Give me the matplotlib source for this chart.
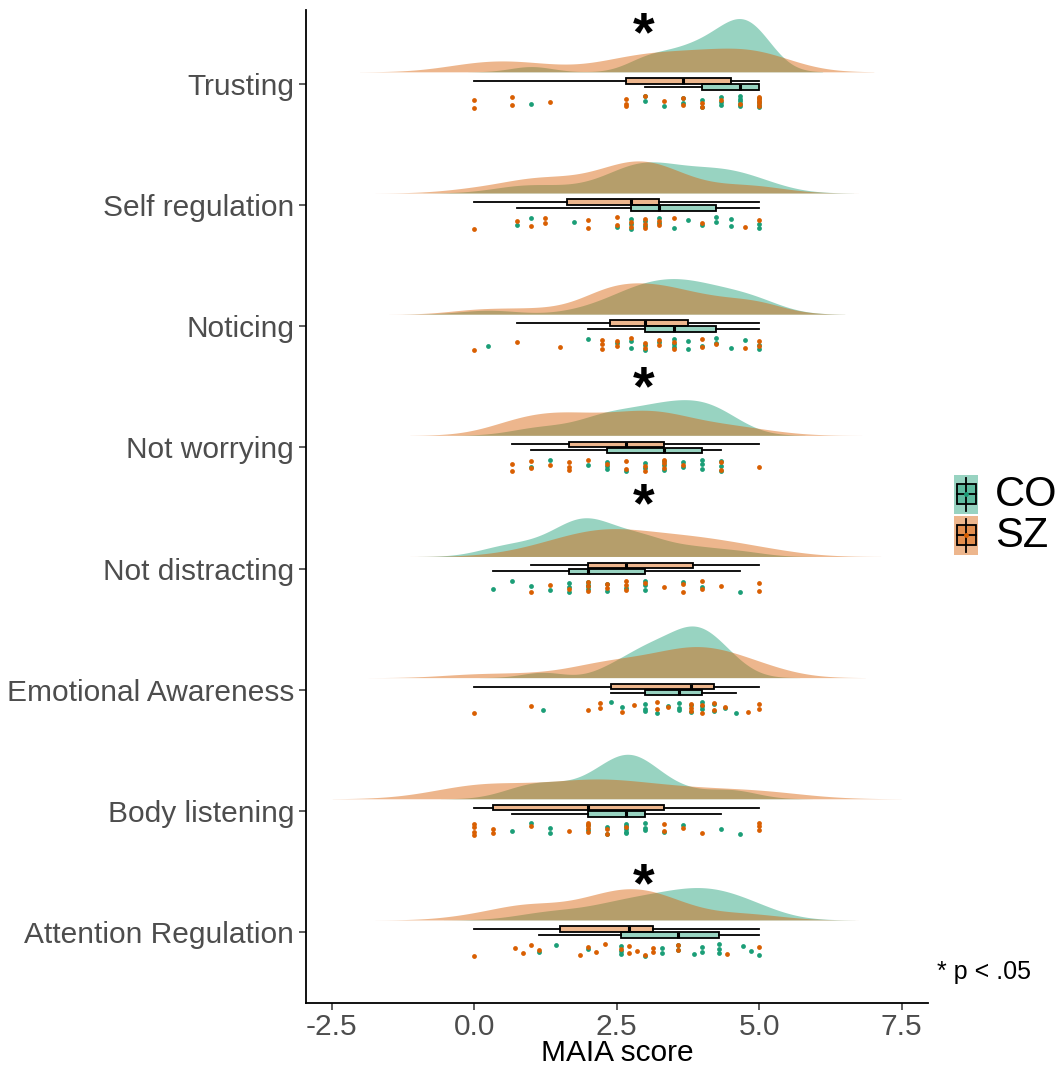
import numpy as np
import matplotlib
matplotlib.use("Agg")
import matplotlib.pyplot as plt
from matplotlib.patches import Rectangle

plt.rcParams['font.family'] = ['Liberation Sans', 'DejaVu Sans']

# subscales, bottom to top
subscales = ["Attention Regulation", "Body listening", "Emotional Awareness",
             "Not distracting", "Not worrying", "Noticing", "Self regulation", "Trusting"]

# individual scores (CO = controls, SZ = patients)
co_attention = [1.14, 1.43, 2.0, 2.57, 2.57, 2.57, 3.0, 3.29, 3.29, 3.57, 3.57, 3.86, 4.0, 4.0, 4.29, 4.29, 4.29, 4.71, 4.86, 5.0]
sz_attention = [0, 0.71, 0.86, 1.0, 1.14, 1.86, 2.0, 2.14, 2.29, 2.57, 2.71, 2.71, 2.86, 3.0, 3.14, 3.14, 3.57, 3.57, 4.43, 5.0]
co_body = [0.67, 1.0, 1.33, 1.33, 2.0, 2.0, 2.33, 2.33, 2.67, 2.67, 2.67, 2.67, 2.67, 3.0, 3.0, 3.0, 3.33, 3.67, 4.33, 4.67]
sz_body = [0, 0, 0, 0, 0.33, 0.33, 1.0, 1.67, 2.0, 2.0, 2.0, 2.0, 2.33, 2.33, 2.67, 3.33, 3.33, 3.67, 4.0, 5.0, 5.0, 5.0]
co_emotional = [1.2, 2.4, 2.6, 3.0, 3.0, 3.0, 3.2, 3.4, 3.6, 3.6, 3.6, 3.8, 3.8, 4.0, 4.0, 4.0, 4.2, 4.2, 4.4, 4.6]
sz_emotional = [0, 1.0, 2.0, 2.2, 2.2, 2.6, 2.8, 3.2, 3.2, 3.4, 3.8, 3.8, 3.8, 4.0, 4.0, 4.2, 4.2, 4.4, 4.8, 5.0, 5.0]
co_distracting = [0.33, 0.67, 1.0, 1.33, 1.67, 1.67, 1.67, 2.0, 2.0, 2.0, 2.0, 2.33, 2.33, 2.67, 3.0, 3.0, 3.0, 3.67, 4.0, 4.67]
sz_distracting = [1.0, 1.33, 1.67, 2.0, 2.0, 2.0, 2.33, 2.33, 2.67, 2.67, 2.67, 3.0, 3.33, 3.67, 3.67, 4.0, 4.0, 4.33, 5.0, 5.0]
co_worrying = [1.0, 1.33, 2.0, 2.33, 2.33, 2.33, 2.67, 3.0, 3.0, 3.33, 3.33, 3.33, 3.67, 3.67, 4.0, 4.0, 4.0, 4.33, 4.33, 4.33]
sz_worrying = [0.67, 0.67, 1.0, 1.0, 1.33, 1.67, 1.67, 1.67, 2.0, 2.33, 2.67, 2.67, 3.0, 3.0, 3.33, 3.33, 3.33, 3.67, 4.33, 4.33, 5.0]
co_noticing = [0.25, 2.0, 2.5, 2.75, 2.75, 3.0, 3.0, 3.25, 3.5, 3.5, 3.5, 3.75, 3.75, 4.0, 4.25, 4.25, 4.5, 4.75, 5.0, 5.0]
sz_noticing = [0, 0.75, 1.5, 2.25, 2.25, 2.25, 2.5, 2.5, 2.75, 3.0, 3.0, 3.25, 3.25, 3.5, 3.5, 4.0, 4.0, 4.25, 4.75, 5.0, 5.0]
co_selfreg = [0.75, 1.0, 1.75, 2.5, 2.75, 2.75, 2.75, 3.0, 3.0, 3.25, 3.25, 3.5, 3.75, 4.0, 4.25, 4.25, 4.5, 4.5, 5.0, 5.0]
sz_selfreg = [0, 0.75, 1.0, 1.25, 1.25, 2.0, 2.0, 2.5, 2.5, 2.75, 2.75, 3.0, 3.0, 3.0, 3.25, 3.25, 3.5, 4.0, 4.75, 5.0]
co_trusting = [1.0, 3.0, 3.0, 3.33, 3.67, 3.67, 4.0, 4.0, 4.33, 4.33, 4.33, 4.67, 4.67, 4.67, 4.67, 4.67, 5.0, 5.0, 5.0, 5.0]
sz_trusting = [0, 0, 0.67, 0.67, 1.33, 2.67, 2.67, 2.67, 3.0, 3.33, 3.67, 3.67, 4.0, 4.0, 4.33, 4.67, 5.0, 5.0, 5.0, 5.0, 5.0]

# density bandwidths, read from how far each cloud reaches past its data
co_bw = [0.56, 0.42, 0.37, 0.44, 0.49, 0.50, 0.55, 0.37]
sz_bw = [0.58, 0.83, 0.62, 0.71, 0.60, 0.50, 0.58, 0.67]

# boxplot summaries (same order as subscales)
co_q1 = [2.57, 2.0, 3.0, 1.67, 2.33, 3.0, 2.75, 4.0]
co_med = [3.57, 2.67, 3.6, 2.0, 3.33, 3.5, 3.25, 4.67]
co_q3 = [4.29, 3.0, 4.0, 3.0, 4.0, 4.25, 4.25, 5.0]
co_lo = [1.14, 0.67, 2.4, 0.33, 1.0, 2.0, 0.75, 3.0]
co_hi = [5.0, 4.33, 4.6, 4.67, 4.33, 5.0, 5.0, 5.0]
sz_q1 = [1.5, 0.33, 2.4, 2.0, 1.67, 2.38, 1.63, 2.67]
sz_med = [2.71, 2.0, 3.8, 2.67, 2.67, 3.0, 2.75, 3.67]
sz_q3 = [3.14, 3.33, 4.2, 3.83, 3.33, 3.75, 3.25, 4.5]
sz_lo = [0, 0, 0, 1.0, 0.67, 0.75, 0, 0]
sz_hi = [5.0, 5.0, 5.0, 5.0, 5.0, 5.0, 5.0, 5.0]

# significant group differences
sig_rows = ["Attention Regulation", "Not distracting", "Not worrying", "Trusting"]
sig_offsets = [0.37, 0.51, 0.47, 0.39]

co_color = "#1B9E77"
sz_color = "#D95F02"
alpha = 0.45

co_data = [co_attention, co_body, co_emotional, co_distracting, co_worrying, co_noticing, co_selfreg, co_trusting]
sz_data = [sz_attention, sz_body, sz_emotional, sz_distracting, sz_worrying, sz_noticing, sz_selfreg, sz_trusting]


def kde(x, bw):
    x = np.asarray(x, dtype=float)
    grid = np.linspace(x.min() - 3 * bw, x.max() + 3 * bw, 512)
    z = (grid[:, None] - x[None, :]) / bw
    dens = np.exp(-0.5 * z ** 2).sum(axis=1) / (len(x) * bw * np.sqrt(2 * np.pi))
    return grid, dens


co_kde = [kde(d, b) for d, b in zip(co_data, co_bw)]
sz_kde = [kde(d, b) for d, b in zip(sz_data, sz_bw)]
dmax = max(d.max() for _, d in co_kde + sz_kde)
vscale = 0.44 / dmax

fig = plt.figure(figsize=(10.63, 10.69), dpi=100)
ax = fig.add_axes([0.2879, 0.0617, 0.5851, 0.9289])

pos = np.arange(1, len(subscales) + 1)

for i, p in enumerate(pos):
    base = p + 0.10
    for (g, d), col in ((co_kde[i], co_color), (sz_kde[i], sz_color)):
        ax.fill_between(g, base, base + d * vscale, color=col, alpha=alpha, lw=0, zorder=1)


def box_stats(q1, med, q3, lo, hi):
    return [dict(q1=a, med=b, q3=c, whislo=d, whishi=e, fliers=[])
            for a, b, c, d, e in zip(q1, med, q3, lo, hi)]


for stats, off, col in ((box_stats(sz_q1, sz_med, sz_q3, sz_lo, sz_hi), 0.026, sz_color),
                        (box_stats(co_q1, co_med, co_q3, co_lo, co_hi), -0.024, co_color)):
    ax.bxp(stats, positions=pos + off, widths=0.045, orientation='horizontal',
           patch_artist=True, showcaps=False, showfliers=False, manage_ticks=False,
           boxprops=dict(facecolor=matplotlib.colors.to_rgba(col, alpha), edgecolor='black', lw=1.3),
           whiskerprops=dict(color='black', lw=1.3),
           medianprops=dict(color='black', lw=2.2), zorder=3)

# rain: points under each box, spread vertically
for data, col in ((co_data, co_color), (sz_data, sz_color)):
    for i, p in enumerate(pos):
        x = np.asarray(data[i], dtype=float)
        k = np.arange(len(x))
        spread = ((k * 0.6180339 + (0.3 if col == co_color else 0.0)) % 1.0) * 2 - 1
        ax.scatter(x, p - 0.145 + 0.05 * spread, s=12, color=col, lw=0, zorder=4)

for name, off in zip(sig_rows, sig_offsets):
    p = subscales.index(name) + 1
    ax.text(2.97, p + off, "*", fontsize=40, fontweight='bold', ha='center', va='center', color='black')

ax.set_xlim(-2.95, 7.96)
ax.set_ylim(0.414, 8.61)
ax.set_yticks(pos)
ax.set_yticklabels(subscales)
ax.set_xticks([-2.5, 0.0, 2.5, 5.0, 7.5])
ax.set_xticklabels(["-2.5", "0.0", "2.5", "5.0", "7.5"])
ax.tick_params(labelsize=21.5, labelcolor='#4D4D4D', length=5, width=1.1, color='#333333')
ax.tick_params(axis='x', pad=2)
ax.set_xlabel("MAIA score", fontsize=21.5)
ax.xaxis.set_label_coords(0.5, -0.0505)
ax.xaxis.label.set_va('center')
for s in ('top', 'right'):
    ax.spines[s].set_visible(False)
for s in ('left', 'bottom'):
    ax.spines[s].set_linewidth(1.3)

fig.text(937 / 1063, 1 - 972 / 1069, "* p < .05", fontsize=18, va='center', ha='left')

# legend drawn by hand
lax = fig.add_axes([950 / 1063, 1 - 560 / 1069, 113 / 1063, 90 / 1069])
lax.set_xlim(950, 1063)
lax.set_ylim(560, 470)
lax.axis('off')
for y0, lab, col in ((475, "CO", co_color), (516, "SZ", sz_color)):
    lax.add_patch(Rectangle((954, y0), 24, 39, facecolor=col, alpha=alpha, lw=0))
    lax.plot([966, 966], [y0 + 3, y0 + 36], color='black', lw=1.3)
    lax.add_patch(Rectangle((956.5, y0 + 9), 19, 20, facecolor=matplotlib.colors.to_rgba(col, alpha),
                            edgecolor='black', lw=1.3))
    lax.plot([956.5, 975.5], [y0 + 19, y0 + 19], color='black', lw=1.3)
    lax.scatter([966], [y0 + 19], s=6, color=col, zorder=5)
    lax.text(995, y0 + 20, lab, fontsize=30, va='center', ha='left')

fig.savefig("out.png", dpi=100)
